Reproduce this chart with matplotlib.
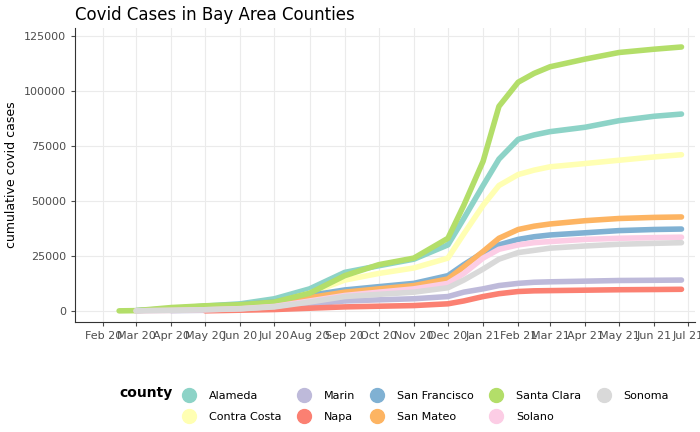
import datetime as dt

import matplotlib.pyplot as plt
import matplotlib.dates as mdates
import numpy as np

dates = ["2020-02-15", "2020-03-01", "2020-04-01", "2020-05-01", "2020-06-01", "2020-07-01",
         "2020-08-01", "2020-09-01", "2020-10-01", "2020-11-01", "2020-12-01", "2020-12-15",
         "2021-01-01", "2021-01-15", "2021-02-01", "2021-02-15", "2021-03-01", "2021-04-01",
         "2021-05-01", "2021-06-01", "2021-06-25"]
N = np.nan

counties = ["Alameda", "Contra Costa", "Marin", "Napa", "San Francisco",
            "San Mateo", "Santa Clara", "Solano", "Sonoma"]
colors = ["#8DD3C7", "#FFFFB3", "#BEBADA", "#FB8072", "#80B1D3",
          "#FDB462", "#B3DE69", "#FCCDE5", "#D9D9D9"]

alameda = [N, 100, 1000, 2200, 3200, 5500, 10000, 17500, 20500, 23500, 30000, 42000,
           57000, 69000, 78000, 80000, 81500, 83500, 86500, 88500, 89500]
contra_costa = [N, 50, 800, 1500, 2000, 3500, 8000, 14000, 17000, 19500, 24000, 35000,
                48000, 57000, 62000, 64000, 65500, 67000, 68500, 70000, 71000]
marin = [N, N, 100, 250, 700, 1500, 3000, 4500, 5000, 5500, 6500, 8500,
         10000, 11500, 12500, 13000, 13200, 13500, 13800, 13900, 14000]
napa = [N, N, N, 0, 300, 600, 1200, 1800, 2100, 2400, 3200, 4500,
        6500, 7800, 8800, 9100, 9200, 9400, 9600, 9700, 9800]
san_francisco = [N, 100, 800, 2000, 2800, 4000, 7000, 9500, 11000, 12500, 16000, 21000,
                 26500, 30000, 32500, 33700, 34500, 35500, 36500, 37000, 37200]
san_mateo = [N, N, 800, 1500, 2200, 3300, 6000, 8500, 10000, 11500, 14500, 20000,
             27000, 33000, 37000, 38500, 39500, 41000, 42000, 42500, 42700]
santa_clara = [0, 100, 1500, 2300, 2800, 4000, 8000, 16000, 21000, 24000, 33000, 48000,
               68000, 93000, 104000, 108000, 111000, 114500, 117500, 119000, 120000]
solano = [N, 0, 200, 500, 1000, 2000, 4500, 7000, 8500, 10000, 12500, 17000,
          24000, 28000, 30000, 31000, 31500, 32500, 33000, 33300, 33500]
sonoma = [N, 0, 200, 500, 900, 1800, 4000, 6500, 7500, 8500, 10500, 14000,
          19000, 23500, 26500, 27500, 28500, 29500, 30300, 30700, 31000]
series = [alameda, contra_costa, marin, napa, san_francisco,
          san_mateo, santa_clara, solano, sonoma]

x = [dt.datetime.strptime(d, "%Y-%m-%d") for d in dates]

fig = plt.figure(figsize=(7, 4.32), dpi=100)
ax = fig.add_axes([0.107, 0.255, 0.886, 0.68])
for name, col, ys in zip(counties, colors, series):
    ax.plot(x, ys, color=col, lw=4, solid_capstyle="round", label=name)

ax.set_ylim(-5000, 128600)
ax.set_yticks([0, 25000, 50000, 75000, 100000, 125000])
ax.set_xlim(dt.datetime(2020, 1, 7), dt.datetime(2021, 7, 7))
ax.xaxis.set_major_locator(mdates.MonthLocator())
ax.xaxis.set_major_formatter(mdates.DateFormatter("%b %y"))
ax.grid(color="#EBEBEB", lw=0.8)
ax.set_axisbelow(True)
for s in ["top", "right"]:
    ax.spines[s].set_visible(False)
for s in ["left", "bottom"]:
    ax.spines[s].set_color("#333333")
ax.tick_params(labelsize=8, colors="#4D4D4D", length=3)
ax.set_ylabel("cumulative covid cases", fontsize=9)
ax.set_title("Covid Cases in Bay Area Counties", loc="left", fontsize=12)

handles = [plt.Line2D([], [], marker="o", ls="", ms=10, color=c) for c in colors]
fig.legend(handles, counties, loc="lower left", bbox_to_anchor=(0.24, 0.0),
           ncol=5, frameon=False, fontsize=8, handletextpad=0.8,
           columnspacing=1.0, labelspacing=1.0)
fig.text(0.17, 0.09, "county", fontsize=10, fontweight="bold", va="center")

fig.savefig("out.png")
